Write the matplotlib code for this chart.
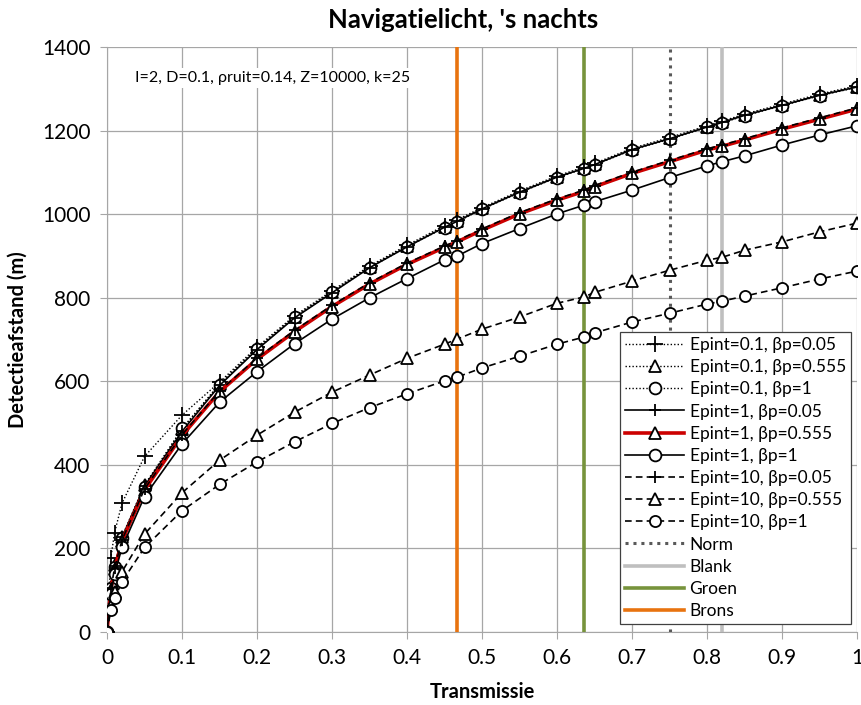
import matplotlib
matplotlib.use("Agg")
import matplotlib.pyplot as plt

plt.rcParams['font.family'] = ['Lato', 'DejaVu Sans']

# --- data ---
transmissie = [0, 0.005, 0.01, 0.02, 0.05, 0.1, 0.15, 0.2, 0.25, 0.3, 0.35, 0.4, 0.45, 0.4667,
               0.5, 0.55, 0.6, 0.636, 0.65, 0.7, 0.75, 0.8, 0.82, 0.85, 0.9, 0.95, 1.0]

e01_b005 = [0, 176, 237, 308, 420, 519, 598, 682, 757, 817, 876, 926, 973, 987,
            1016, 1056, 1092, 1113, 1122, 1158, 1184, 1212, 1223, 1240, 1264, 1288, 1308]
e01_b0555 = [0, 108, 160, 228, 352, 485, 594, 679, 755, 815, 874, 924, 970, 984,
             1014, 1054, 1090, 1111, 1120, 1156, 1182, 1210, 1221, 1238, 1262, 1286, 1306]
e01_b1 = [0, 104, 156, 224, 348, 487, 592, 677, 753, 813, 872, 922, 968, 982,
          1012, 1052, 1088, 1109, 1118, 1154, 1180, 1208, 1219, 1236, 1260, 1284, 1304]
e1_b005 = [0, 106, 158, 226, 349, 480, 590, 676, 752, 812, 872, 922, 969, 983,
           1013, 1053, 1089, 1110, 1119, 1155, 1181, 1209, 1220, 1237, 1261, 1285, 1305]
e1_b0555 = [0, 100, 150, 218, 340, 470, 575, 653, 719, 779, 833, 880, 921, 934,
            962, 1001, 1034, 1055, 1066, 1098, 1126, 1154, 1163, 1178, 1204, 1228, 1252]
e1_b1 = [0, 90, 138, 202, 324, 450, 550, 623, 690, 749, 800, 846, 891, 900,
         930, 966, 1001, 1022, 1030, 1058, 1088, 1116, 1126, 1140, 1166, 1190, 1212]
e10_b005 = [0, 102, 152, 220, 342, 472, 577, 656, 722, 782, 836, 883, 924, 937,
            965, 1004, 1037, 1058, 1069, 1101, 1129, 1157, 1166, 1181, 1207, 1231, 1255]
e10_b0555 = [0, 62, 95, 144, 234, 333, 411, 471, 526, 574, 615, 655, 689, 701,
             725, 754, 787, 802, 813, 840, 866, 890, 897, 914, 934, 958, 979]
e10_b1 = [0, 52, 80, 120, 202, 290, 353, 407, 455, 499, 537, 570, 601, 610,
          632, 660, 689, 706, 716, 742, 763, 785, 792, 804, 824, 845, 864]

ref_names = ['Norm', 'Blank', 'Groen', 'Brons']
ref_x = [0.75, 0.82, 0.636, 0.4667]
y_range = [0, 1400]

fig = plt.figure(figsize=(8.61, 7.05), dpi=100)
ax = fig.add_axes([0.1243, 0.1038, 0.9954 - 0.1243, 0.9329 - 0.1038])

dotted = (0, (1, 1.5))
dashed = (0, (4, 2.5))
mk = dict(markerfacecolor='white', markeredgecolor='black')

series = [
    (e01_b005, 'Epint=0.1, βp=0.05', 'black', dotted, 1.0, '+', 12),
    (e01_b0555, 'Epint=0.1, βp=0.555', 'black', dotted, 1.0, '^', 9),
    (e01_b1, 'Epint=0.1, βp=1', 'black', dotted, 1.0, 'o', 8.5),
    (e1_b005, 'Epint=1, βp=0.05', 'black', '-', 1.2, '+', 9),
    (e1_b0555, 'Epint=1, βp=0.555', '#CC0000', '-', 2.6, '^', 9),
    (e1_b1, 'Epint=1, βp=1', 'black', '-', 1.2, 'o', 8.5),
    (e10_b005, 'Epint=10, βp=0.05', 'black', dashed, 1.2, '+', 9),
    (e10_b0555, 'Epint=10, βp=0.555', 'black', dashed, 1.2, '^', 8),
    (e10_b1, 'Epint=10, βp=1', 'black', dashed, 1.2, 'o', 8),
]
for ys, name, col, ls, lw, m, ms in series:
    ax.plot(transmissie, ys, color=col, linestyle=ls, linewidth=lw, marker=m,
            markersize=ms, markeredgewidth=1.3, label=name, zorder=4, **mk)

# vertical reference lines
ref_styles = [('#595959', (0, (1, 1.6)), 2.2), ('#BFBFBF', '-', 2.6),
              ('#77933C', '-', 2.6), ('#E8730F', '-', 2.6)]
for name, xv, (col, ls, lw) in zip(ref_names, ref_x, ref_styles):
    ax.plot([xv, xv], y_range, color=col, linestyle=ls, linewidth=lw, label=name, zorder=3)

ax.set_xlim(0, 1)
ax.set_ylim(0, 1400)
ax.set_xticks([i / 10 for i in range(11)])
ax.set_xticklabels(['0', '0.1', '0.2', '0.3', '0.4', '0.5', '0.6', '0.7', '0.8', '0.9', '1'])
ax.set_yticks(range(0, 1401, 200))
ax.grid(True, color='#A6A6A6', linewidth=0.9)
ax.set_axisbelow(True)
for s in ['top', 'right']:
    ax.spines[s].set_visible(False)
for s in ['left', 'bottom']:
    ax.spines[s].set_color('#A6A6A6')
ax.tick_params(direction='out', length=5, color='#A6A6A6', labelsize=15, pad=7)

ax.set_xlabel('Transmissie', fontsize=14.5, fontweight='bold', labelpad=10)
ax.set_ylabel('Detectieafstand (m)', fontsize=14.5, fontweight='bold', labelpad=10)
fig.text(0.538, 0.971, "Navigatielicht, 's nachts", ha='center', va='center',
         fontsize=18.5, fontweight='bold')

ax.text(0.037, 1326, 'I=2, D=0.1, ρruit=0.14, Z=10000, k=25', fontsize=11.5,
        va='center', ha='left', zorder=5,
        bbox=dict(facecolor='white', edgecolor='none', pad=2))

leg = ax.legend(loc='lower right', bbox_to_anchor=(0.992, 0.013), fontsize=12.5,
                frameon=True, fancybox=False, framealpha=1, edgecolor='#404040',
                handlelength=3.4, handletextpad=0.3, labelspacing=0.355,
                borderpad=0.3, borderaxespad=0)
leg.get_frame().set_linewidth(0.9)
leg.set_zorder(10)

fig.savefig('out.png', dpi=100)
